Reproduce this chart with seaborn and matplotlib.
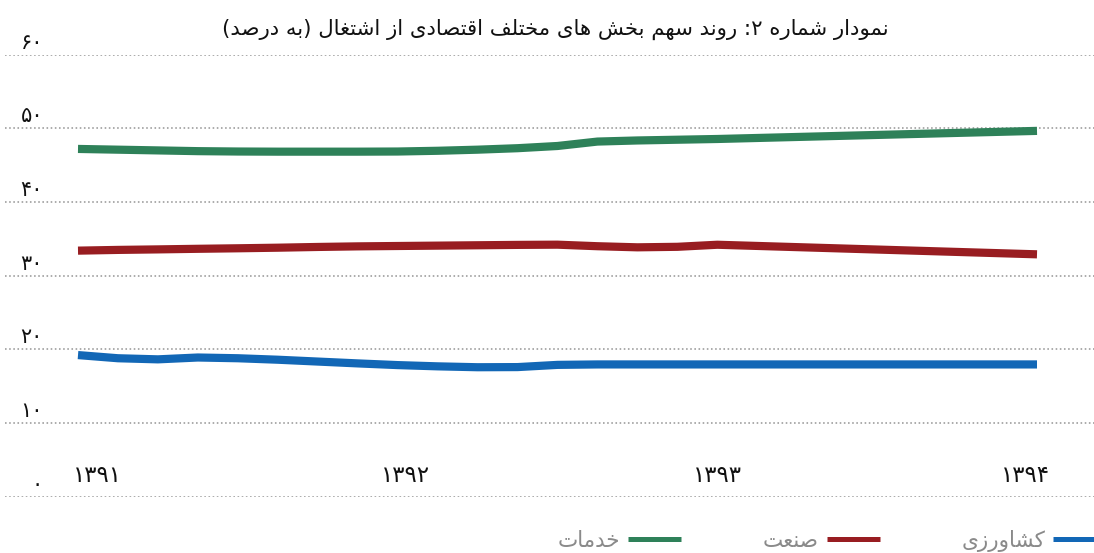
import numpy as np
import pandas as pd
import seaborn as sns
import matplotlib
matplotlib.use("Agg")
import matplotlib.pyplot as plt
from matplotlib.transforms import ScaledTranslation
from matplotlib.lines import Line2D

# ---------------- data ----------------
years = [1391.0, 1391.125, 1391.25, 1391.375, 1391.5, 1391.625, 1391.75, 1391.875,
         1392.0, 1392.125, 1392.25, 1392.375, 1392.5, 1392.625, 1392.75, 1392.875,
         1393.0, 1394.0]
agriculture = [19.23, 18.8, 18.65, 18.9, 18.8, 18.6, 18.35, 18.1,
               17.87, 17.7, 17.58, 17.6, 17.9, 17.96, 17.96, 17.96,
               17.96, 17.96]
industry = [33.4, 33.5, 33.57, 33.65, 33.72, 33.8, 33.9, 33.98,
            34.03, 34.08, 34.13, 34.18, 34.21, 34.0, 33.85, 33.92,
            34.2, 32.9]
services = [47.2, 47.1, 47.0, 46.9, 46.85, 46.83, 46.83, 46.83,
            46.85, 46.95, 47.1, 47.3, 47.6, 48.2, 48.35, 48.45,
            48.55, 49.65]
series_names = ["کشاورزی", "صنعت", "خدمات"]
series_colors = ["#1267b6", "#981d21", "#2e8159"]
x_ticks = [1391, 1392, 1393, 1394]
x_labels = ["۱۳۹۱", "۱۳۹۲", "۱۳۹۳", "۱۳۹۴"]
y_ticks = [0, 10, 20, 30, 40, 50, 60]
y_labels = ["۰", "۱۰", "۲۰", "۳۰", "۴۰", "۵۰", "۶۰"]
title = "نمودار شماره ۲: روند سهم بخش های مختلف اقتصادی از اشتغال (به درصد)"

# ------------- minimal Persian shaping (matplotlib has no RTL shaping) -------------
FORMS = {
    "ا": ("\uFE8D", "\uFE8E", None, None),
    "ب": ("\uFE8F", "\uFE90", "\uFE91", "\uFE92"),
    "ت": ("\uFE95", "\uFE96", "\uFE97", "\uFE98"),
    "خ": ("\uFEA5", "\uFEA6", "\uFEA7", "\uFEA8"),
    "د": ("\uFEA9", "\uFEAA", None, None),
    "ر": ("\uFEAD", "\uFEAE", None, None),
    "ز": ("\uFEAF", "\uFEB0", None, None),
    "س": ("\uFEB1", "\uFEB2", "\uFEB3", "\uFEB4"),
    "ش": ("\uFEB5", "\uFEB6", "\uFEB7", "\uFEB8"),
    "ص": ("\uFEB9", "\uFEBA", "\uFEBB", "\uFEBC"),
    "ع": ("\uFEC9", "\uFECA", "\uFECB", "\uFECC"),
    "غ": ("\uFECD", "\uFECE", "\uFECF", "\uFED0"),
    "ف": ("\uFED1", "\uFED2", "\uFED3", "\uFED4"),
    "ق": ("\uFED5", "\uFED6", "\uFED7", "\uFED8"),
    "ل": ("\uFEDD", "\uFEDE", "\uFEDF", "\uFEE0"),
    "م": ("\uFEE1", "\uFEE2", "\uFEE3", "\uFEE4"),
    "ن": ("\uFEE5", "\uFEE6", "\uFEE7", "\uFEE8"),
    "ه": ("\uFEE9", "\uFEEA", "\uFEEB", "\uFEEC"),
    "و": ("\uFEED", "\uFEEE", None, None),
    "ی": ("\uFBFC", "\uFBFD", "\uFBFE", "\uFBFF"),
    "ک": ("\uFB8E", "\uFB8F", "\uFB90", "\uFB91"),
}


def shape(text):
    def joins_next(c):
        return c in FORMS and FORMS[c][2] is not None

    out = []
    for i, c in enumerate(text):
        if c not in FORMS:
            out.append(c)
            continue
        prev = text[i - 1] if i > 0 else ""
        nxt = text[i + 1] if i + 1 < len(text) else ""
        p = joins_next(prev)
        n = joins_next(c) and nxt in FORMS
        iso, fin, ini, med = FORMS[c]
        out.append(med if (p and n) else fin if p else ini if n else iso)
    mirror = {"(": ")", ")": "("}
    return "".join(mirror.get(ch, ch) for ch in "".join(out)[::-1])


# ---------------- figure ----------------
sns.set_style("white")
plt.rcParams["font.family"] = ["DejaVu Sans"]

df = pd.DataFrame({
    "year": years * 3,
    "value": agriculture + industry + services,
    "sector": [series_names[0]] * len(years) + [series_names[1]] * len(years)
              + [series_names[2]] * len(years),
})

fig = plt.figure(figsize=(10.94, 5.53), dpi=100)
ax = fig.add_axes([5 / 1094, 1 - 496.8 / 553, 1 - 5 / 1094, (496.8 - 54.6) / 553])

sns.lineplot(data=df, x="year", y="value", hue="sector", hue_order=series_names,
             palette=series_colors, linewidth=5.9, legend=False, ax=ax,
             solid_capstyle="butt")

ax.set_xlim(1391 - 73 / 319.67, 1394 + 57 / 319.67)
ax.set_ylim(0, 60)
ax.set_xlabel("")
ax.set_ylabel("")
for s in ax.spines.values():
    s.set_visible(False)

ax.set_yticks(y_ticks)
ax.set_yticklabels(y_labels, fontsize=15, color="#111111")
ax.set_xticks(x_ticks)
ax.set_xticklabels(x_labels, fontsize=16.5, color="#111111")
ax.tick_params(axis="both", length=0, pad=0)
ax.yaxis.grid(True, color="#999999", linestyle=(0, (1, 1.6)), linewidth=1.15)
ax.xaxis.grid(False)
ax.set_axisbelow(True)

for lbl in ax.get_yticklabels():
    lbl.set_verticalalignment("bottom")
    lbl.set_transform(lbl.get_transform() + ScaledTranslation(0.38, 0.02, fig.dpi_scale_trans))
x_shift = [0.19, 0.08, 0.0, -0.11]
for lbl, dx in zip(ax.get_xticklabels(), x_shift):
    lbl.set_transform(lbl.get_transform() + ScaledTranslation(dx, 0.33, fig.dpi_scale_trans))

fig.text(555 / 1094, 1 - 29 / 553, shape(title), ha="center", va="center",
         fontsize=15.3, color="#111111")

handles = [Line2D([], [], color=c, linewidth=3.6, solid_capstyle="butt") for c in series_colors]
order = [2, 1, 0]
fig.legend([handles[i] for i in order], [shape(series_names[i]) for i in order],
           loc="center left", bbox_to_anchor=(558 / 1094, 1 - 541 / 553), ncol=3,
           frameon=False, markerfirst=False, fontsize=15.5, labelcolor="#8a8a8a",
           handlelength=2.45, handletextpad=0.37, columnspacing=3.8, borderpad=0,
           borderaxespad=0)

fig.savefig("out.png", dpi=100)
